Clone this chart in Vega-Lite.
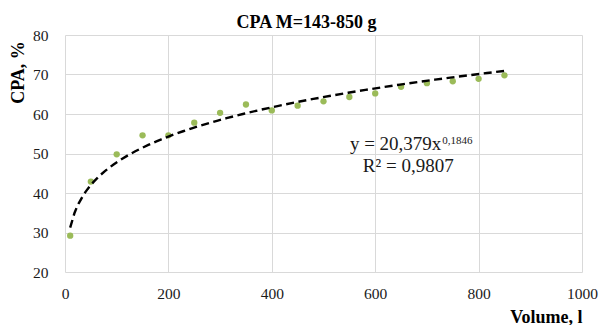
{
  "$schema": "https://vega.github.io/schema/vega-lite/v6.json",
  "width": 517,
  "height": 237,
  "autosize": {"type": "none"},
  "padding": {"left": 65, "top": 35, "right": 20, "bottom": 53},
  "background": "white",
  "title": {
    "text": "CPA M=143-850 g",
    "font": "Liberation Serif",
    "fontSize": 18,
    "fontWeight": "bold",
    "color": "#000000",
    "anchor": "middle",
    "dx": -17,
    "dy": 27,
    "baseline": "alphabetic",
    "offset": 9
  },
  "config": {
    "font": "Liberation Serif",
    "view": {"stroke": null},
    "style": {
      "guide-label": {"font": "Liberation Serif", "fontSize": 15.5, "fill": "#1a1a1a"},
      "guide-title": {"font": "Liberation Serif"}
    },
    "axis": {
      "labelFont": "Liberation Serif",
      "labelFontSize": 15.5,
      "labelFontWeight": "normal",
      "labelColor": "#1a1a1a",
      "titleFont": "Liberation Serif",
      "titleFontSize": 18,
      "titleFontWeight": "bold",
      "titleColor": "#000000",
      "grid": true,
      "gridColor": "#d9d9d9",
      "gridWidth": 1,
      "domain": false,
      "ticks": false,
      "tickSize": 0,
      "labelFlush": false,
      "labelOverlap": false,
      "labelBound": false
    }
  },
  "datasets": {
    "points": [
      {"volume": 10, "cpa": 29.2},
      {"volume": 50, "cpa": 42.9},
      {"volume": 100, "cpa": 49.8},
      {"volume": 150, "cpa": 54.6},
      {"volume": 200, "cpa": 54.6},
      {"volume": 250, "cpa": 57.8},
      {"volume": 300, "cpa": 60.3},
      {"volume": 350, "cpa": 62.4},
      {"volume": 400, "cpa": 60.9},
      {"volume": 450, "cpa": 62.1},
      {"volume": 500, "cpa": 63.2},
      {"volume": 550, "cpa": 64.3},
      {"volume": 600, "cpa": 65.2},
      {"volume": 650, "cpa": 66.9},
      {"volume": 700, "cpa": 67.8},
      {"volume": 750, "cpa": 68.3},
      {"volume": 800, "cpa": 68.9},
      {"volume": 850, "cpa": 69.8}
    ]
  },
  "encoding": {
    "x": {
      "field": "volume",
      "type": "quantitative",
      "scale": {"domain": [0, 1000], "nice": false, "zero": false},
      "axis": {
        "values": [0, 200, 400, 600, 800, 1000],
        "format": "d",
        "labelFont": "Liberation Serif",
        "labelFontSize": 15.5,
        "labelPadding": 14,
        "title": "Volume, l",
        "titleX": 517,
        "titleY": 50,
        "titleAlign": "right",
        "titleBaseline": "alphabetic",
        "titleAnchor": null
      }
    },
    "y": {
      "field": "cpa",
      "type": "quantitative",
      "scale": {"domain": [20, 80], "nice": false, "zero": false},
      "axis": {
        "values": [20, 30, 40, 50, 60, 70, 80],
        "format": "d",
        "labelFont": "Liberation Serif",
        "labelFontSize": 15.5,
        "labelPadding": 17,
        "title": "CPA, %",
        "titleX": -41.5,
        "titleY": 37,
        "titleAngle": 270,
        "titleAlign": "center",
        "titleBaseline": "alphabetic",
        "titleAnchor": null
      }
    }
  },
  "layer": [
    {
      "data": {"name": "points"},
      "mark": {"type": "point", "filled": true, "size": 40, "color": "#9bbb59", "opacity": 1}
    },
    {
      "data": {"name": "points"},
      "transform": [
        {"regression": "cpa", "on": "volume", "method": "pow", "extent": [10, 850]}
      ],
      "mark": {"type": "line", "color": "#000000", "strokeDash": [8, 4.5], "strokeWidth": 2.4, "strokeCap": "butt"}
    },
    {
      "data": {"values": [{"volume": 728, "cpa": 50.9, "label": "y = 20,379x"}]},
      "mark": {"type": "text", "font": "Liberation Serif", "fontSize": 19, "color": "#1a1a1a", "align": "right", "baseline": "alphabetic"},
      "encoding": {"text": {"field": "label", "type": "nominal"}}
    },
    {
      "data": {"values": [{"volume": 729.5, "cpa": 52.3, "label": "0,1846"}]},
      "mark": {"type": "text", "font": "Liberation Serif", "fontSize": 11, "color": "#1a1a1a", "align": "left", "baseline": "alphabetic"},
      "encoding": {"text": {"field": "label", "type": "nominal"}}
    },
    {
      "data": {"values": [{"volume": 664, "cpa": 45.4, "label": "R² = 0,9807"}]},
      "mark": {"type": "text", "font": "Liberation Serif", "fontSize": 19, "color": "#1a1a1a", "align": "center", "baseline": "alphabetic"},
      "encoding": {"text": {"field": "label", "type": "nominal"}}
    }
  ]
}
